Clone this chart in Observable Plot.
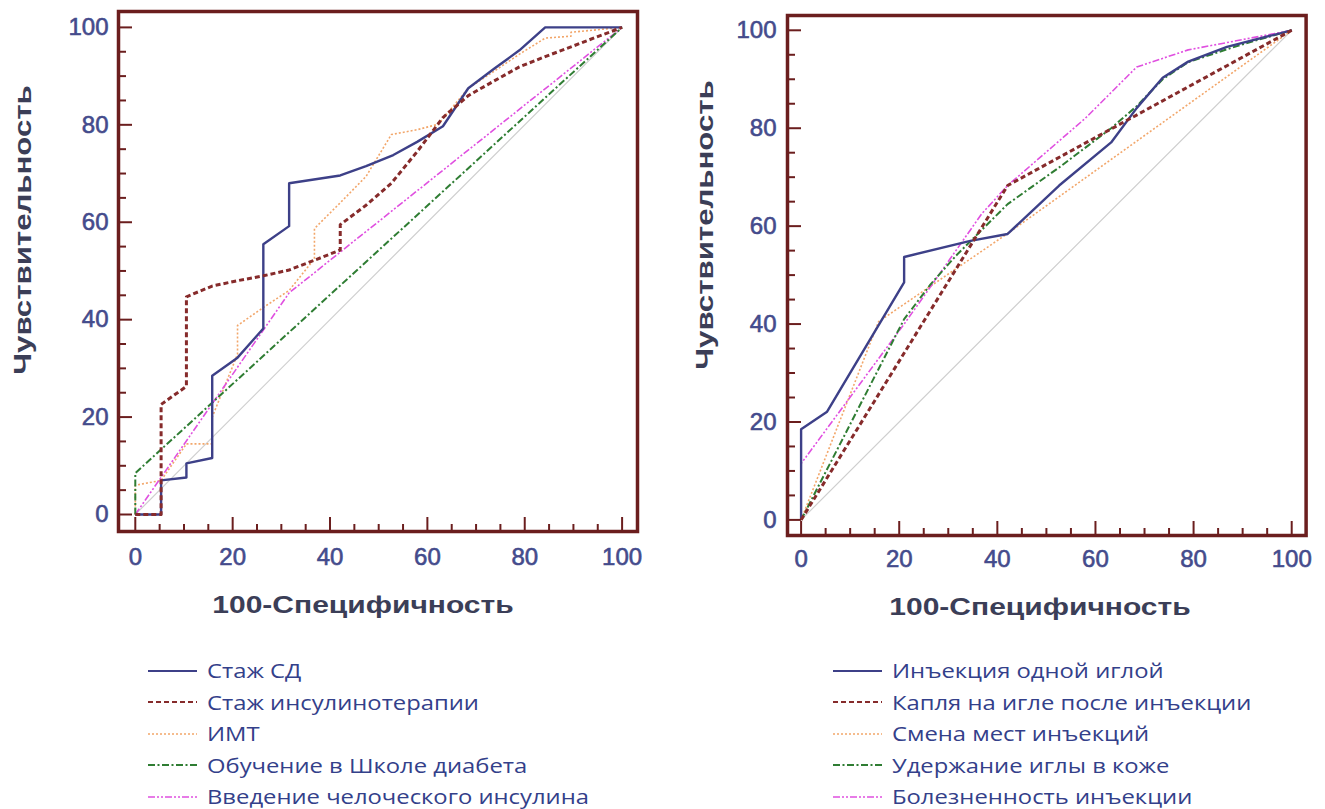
<!DOCTYPE html>
<html>
<head>
<meta charset="utf-8">
<script src="https://cdn.jsdelivr.net/npm/d3@7"></script>
<script src="https://cdn.jsdelivr.net/npm/@observablehq/plot@0.6"></script>
<style>
  body { margin: 0; background: #fff; }
  #page { position: relative; width: 1325px; height: 809px; overflow: hidden; background: #fff;
          font-family: "Liberation Sans", Arial, sans-serif; }
  .panel { position: absolute; top: 0; }
  .title { position: absolute; font-weight: bold; font-size: 24px; line-height: 1; color: #3b3e57; white-space: nowrap; }
  .xtitle { transform: translate(-50%, -50%) scaleX(1.25); }
  .ytitle { transform: translate(-50%, -50%) rotate(-90deg) scaleX(1.3); }
  .legend { position: absolute; font-family: "Open Sans", sans-serif; font-size: 19.5px; color: #33408a; }
  .legend .row { display: flex; align-items: center; height: 31.5px; }
  .legend .row svg { flex: none; }
  .legend .row span { display: inline-block; margin-left: 10px; transform: scaleX(1.22); transform-origin: left center; white-space: nowrap; }
  .panel svg g[aria-label$="axis tick label"] text { paint-order: stroke; stroke: #444b8c; stroke-width: 0.6px; }
</style>
</head>
<body>
<div id="page"></div>
<script>
// Axis ticks (both axes run 0–100)
const majorTicks = [0, 20, 40, 60, 80, 100];
const minorTicks = [5, 10, 15, 25, 30, 35, 45, 50, 55, 65, 70, 75, 85, 90, 95];
const xTitle = "100-Специфичность";
const yTitle = "Чувствительность";

// Left panel: ROC curves, points are [100-specificity, sensitivity]
const leftNames = ["Стаж СД", "Стаж инсулинотерапии", "ИМТ", "Обучение в Школе диабета", "Введение челоческого инсулина"];
const leftStazhSD = [[0,0],[5.3,0],[5.3,7],[10.5,7.6],[10.5,10.5],[15.8,11.6],[15.8,28.5],[21,32.2],[26.3,38.2],[26.3,55.5],[31.6,59.2],[31.6,68],[42.1,69.6],[47.4,71.5],[53,73.8],[57.9,76.5],[63.2,79.7],[68.4,87.5],[73.7,91.5],[78.9,95.3],[84.2,100],[100,100]];
const leftStazhInsulin = [[0,0],[5.3,0],[5.3,22.6],[10.5,26.3],[10.5,44.7],[15.8,46.9],[21,48],[26.3,49],[31.6,50.2],[36.8,52.2],[42.1,54.3],[42.1,59.5],[47.4,63.5],[52.6,68],[57.9,74.5],[63.2,81.5],[68.4,86],[73.7,89],[78.9,91.9],[84.2,94],[89.5,96],[94.7,98],[100,100]];
const leftBMI = [[0,0],[0,6],[5.3,7],[10.5,14.5],[15.8,14.5],[15.8,20],[21,32.9],[21,38.8],[26.3,42.5],[31.6,46],[36.8,52.5],[36.8,58.7],[42.1,64],[47.4,69.4],[52.6,78],[57.9,79],[62.2,80.1],[68.4,87.5],[73.7,91],[78.9,94.5],[84.2,97.8],[89.5,98.2],[89.5,99],[100,100]];
const leftSchool = [[0,0],[0,8.5],[100,100]];
const leftHumanInsulin = [[0,0],[31.6,45.5],[100,100]];

// Right panel
const rightNames = ["Инъекция одной иглой", "Капля на игле после инъекции", "Смена мест инъекций", "Удержание иглы в коже", "Болезненность инъекции"];
const rightOneNeedle = [[0,0],[0,18.5],[5.3,22.1],[21,48.5],[21,53.7],[34.5,57],[42.1,58.4],[52.6,68.3],[63.2,77.1],[68.4,84.1],[73.7,90.3],[78.9,93.6],[86.8,96.6],[100,100]];
const rightDrop = [[0,0],[42.1,68.3],[100,100]];
const rightSiteChange = [[0,0],[15.8,40.5],[42.1,58.5],[100,100]];
const rightHold = [[0,0],[21,41],[26.3,48],[31.6,54],[42.1,64.5],[52.6,72],[63.2,80],[68.4,84.5],[73.7,90],[78.9,93.5],[89.5,97],[100,100]];
const rightPain = [[0,0],[0,11.5],[21,40],[26.3,47.5],[36.8,62.5],[42.1,68.3],[57.9,82],[68.4,92.5],[78.9,96],[100,100]];

const chance = [[0,0],[100,100]];

// Line styles, one per curve position in each legend
const lineStyles = [
  {stroke: "#3d4088", strokeWidth: 2.4, dash: null},
  {stroke: "#862b2b", strokeWidth: 3, dash: "5,3"},
  {stroke: "#f2a66a", strokeWidth: 1.6, dash: "2,2"},
  {stroke: "#2f7d33", strokeWidth: 2, dash: "7,2.5,2,2.5"},
  {stroke: "#e050e0", strokeWidth: 1.6, dash: "7,2,2,2,2,2"}
];
const drawOrder = [2, 4, 3, 0, 1];
const frameColor = "#6b1e1e";
const tickLabelColor = "#444b8c";

const page = document.getElementById("page");

function panel(series, box) {
  const marks = [
    Plot.line(chance, {x: d => d[0], y: d => d[1], stroke: "#cfcfcf", strokeWidth: 1.2})
  ];
  for (const i of drawOrder) {
    const s = lineStyles[i];
    marks.push(Plot.line(series[i], {
      x: d => d[0], y: d => d[1],
      stroke: s.stroke, strokeWidth: s.strokeWidth,
      strokeDasharray: s.dash, strokeLinejoin: "round", strokeLinecap: "butt"
    }));
  }
  marks.push(
    Plot.frame({stroke: frameColor, strokeWidth: 3.5}),
    Plot.axisX(minorTicks, {tickSize: -7, tickFormat: () => "", stroke: frameColor, strokeWidth: 2, label: null}),
    Plot.axisY(minorTicks, {tickSize: -8, tickFormat: () => "", stroke: frameColor, strokeWidth: 2, label: null}),
    Plot.axisX(majorTicks, {tickSize: -14, tickPadding: 14 + box.xLabelGap, stroke: frameColor, strokeWidth: 2,
      fill: tickLabelColor, fontSize: 24, label: null}),
    Plot.axisY(majorTicks, {tickSize: -14, tickPadding: 14 + box.yLabelGap, stroke: frameColor, strokeWidth: 2,
      fill: tickLabelColor, fontSize: 24, label: null})
  );
  const svg = Plot.plot({
    width: box.width, height: box.height,
    marginLeft: box.ml, marginRight: box.mr, marginTop: box.mt, marginBottom: box.mb,
    x: {domain: [0, 100], insetLeft: box.il, insetRight: box.ir},
    y: {domain: [0, 100], insetTop: box.it, insetBottom: box.ib},
    style: {fontFamily: "'Liberation Sans', Arial, sans-serif", background: "transparent", overflow: "visible"},
    marks
  });
  const wrap = document.createElement("div");
  wrap.className = "panel";
  wrap.style.left = box.left + "px";
  wrap.appendChild(svg);
  page.appendChild(wrap);
}

function title(text, cls, cx, cy) {
  const d = document.createElement("div");
  d.className = "title " + cls;
  d.style.left = cx + "px";
  d.style.top = cy + "px";
  d.textContent = text;
  page.appendChild(d);
}

function legend(names, left, top) {
  const box = d3.select(page).append("div").attr("class", "legend")
    .style("left", left + "px").style("top", top + "px");
  names.forEach((name, i) => {
    const s = lineStyles[i];
    const row = box.append("div").attr("class", "row");
    const sw = row.append("svg").attr("width", 49).attr("height", 8);
    sw.append("line").attr("x1", 0).attr("x2", 49).attr("y1", 4).attr("y2", 4)
      .attr("stroke", s.stroke).attr("stroke-width", Math.min(s.strokeWidth, 2))
      .attr("stroke-dasharray", s.dash);
    row.append("span").text(name);
  });
}

panel([leftStazhSD, leftStazhInsulin, leftBMI, leftSchool, leftHumanInsulin],
  {left: 0, width: 660, height: 545, ml: 118, mr: 23, mt: 11, mb: 14,
   il: 16.8, ir: 15.4, it: 15.9, ib: 17, xLabelGap: 16, yLabelGap: 10});
panel([rightOneNeedle, rightDrop, rightSiteChange, rightHold, rightPain],
  {left: 660, width: 665, height: 545, ml: 127, mr: 19.4, mt: 15, mb: 10,
   il: 13.6, ir: 14.4, it: 14.8, ib: 15.6, xLabelGap: 14, yLabelGap: 11});

title(xTitle, "xtitle", 363, 605);
title(xTitle, "xtitle", 1040, 607);
title(yTitle, "ytitle", 23, 230);
title(yTitle, "ytitle", 705, 225);

legend(leftNames, 148, 655);
legend(rightNames, 833, 655);
</script>
</body>
</html>
